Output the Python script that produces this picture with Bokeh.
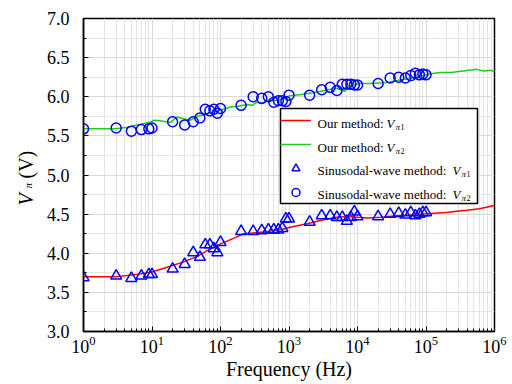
import math
from bokeh.plotting import figure
from bokeh.layouts import row
from bokeh.models import (Range1d, FixedTicker, Legend, LegendItem, Label,
                          PrintfTickFormatter, BoxAnnotation)
from bokeh.embed import file_html
from bokeh.resources import INLINE

# ---- data ----
freq_meas = [1, 3, 5, 7, 9, 10, 20, 30, 40, 50, 60, 70, 80, 90, 100,
             200, 300, 400, 500, 600, 700, 800, 900, 1000,
             2000, 3000, 4000, 5000, 6000, 7000, 8000, 9000, 10000,
             20000, 30000, 40000, 50000, 60000, 70000, 80000, 90000, 100000]
v1_meas = [3.69, 3.71, 3.68, 3.71, 3.73, 3.73, 3.80, 3.86, 4.01, 3.95, 4.11, 4.11, 4.06, 4.01, 4.14,
           4.28, 4.28, 4.29, 4.30, 4.30, 4.30, 4.32, 4.44, 4.44,
           4.40, 4.48, 4.48, 4.46, 4.46, 4.41, 4.46, 4.53, 4.47,
           4.47, 4.50, 4.51, 4.49, 4.52, 4.48, 4.50, 4.52, 4.52]
v2_meas = [5.59, 5.60, 5.56, 5.58, 5.59, 5.60, 5.68, 5.64, 5.68, 5.73, 5.84, 5.82, 5.84, 5.79, 5.85,
           5.89, 6.00, 5.98, 6.00, 5.93, 5.95, 5.95, 5.94, 6.02,
           6.02, 6.09, 6.12, 6.08, 6.16, 6.16, 6.16, 6.15, 6.15,
           6.17, 6.24, 6.25, 6.24, 6.27, 6.30, 6.28, 6.29, 6.28]

f_red = [1, 3, 6, 10, 18, 29, 46, 63, 100, 155, 220, 300, 430, 600, 830, 1000,
         1900, 3300, 5000, 7000, 10000, 14000, 22000, 38000, 60000, 83000,
         130000, 200000, 300000, 400000, 600000, 1000000]
v_red = [3.70, 3.70, 3.73, 3.76, 3.83, 3.89, 3.96, 4.03, 4.12, 4.19, 4.25, 4.26, 4.27, 4.29, 4.31, 4.33,
         4.38, 4.43, 4.46, 4.47, 4.46, 4.45, 4.46, 4.48, 4.49, 4.50,
         4.51, 4.52, 4.54, 4.55, 4.57, 4.61]

f_green = [1, 3, 4.4, 6, 7.9, 9.7, 10.7, 14, 18.5, 23, 29, 36, 46, 57, 72, 100, 140, 180,
           245, 290, 340, 400, 480, 600, 850, 1000, 1500, 2280, 3300, 4800, 6500, 7400,
           10600, 15000, 25000, 47000, 74000, 113000, 160000, 230000, 350000, 550000,
           700000, 880000, 1000000]
v_green = [5.59, 5.59, 5.61, 5.64, 5.66, 5.68, 5.70, 5.69, 5.67, 5.74, 5.72, 5.70, 5.75, 5.77, 5.80,
           5.83, 5.87, 5.88, 5.90, 5.89, 5.93, 5.91, 5.96, 5.95, 5.98, 6.01, 6.03, 6.05, 6.08,
           6.11, 6.07, 6.13, 6.17, 6.17, 6.18, 6.22, 6.25, 6.29, 6.31, 6.31, 6.33, 6.35,
           6.33, 6.34, 6.32]

x_ticks = [1, 10, 100, 1000, 10000, 100000, 1000000]
y_ticks = [3.0, 3.5, 4.0, 4.5, 5.0, 5.5, 6.0, 6.5, 7.0]

legend_texts = ["Our method: ", "Our method: ", "Sinusodal-wave method: ", "Sinusodal-wave method: "]
legend_subs = ["1", "2", "1", "2"]

FONT = "Liberation Serif"

# ---- narrow strip holding the y-axis title (italic V with subscript pi) ----
lf = figure(width=40, height=384, x_range=Range1d(0, 1), y_range=Range1d(0, 1),
            title=None, x_axis_location=None, y_axis_location=None,
            min_border_left=0, min_border_right=0, min_border_top=18, min_border_bottom=53,
            output_backend="svg", toolbar_location=None)
lf.outline_line_color = None
lf.background_fill_color = "white"
lf.border_fill_color = "white"
lf.grid.visible = False


def lab(fig, **kw):
    base = dict(x_units="screen", y_units="screen", text_font=FONT, text_color="black",
                text_baseline="alphabetic", text_align="left")
    base.update(kw)
    fig.add_layout(Label(**base))


lab(lf, x=25, y=126, text="V", angle=math.pi / 2, text_font_size="20px", text_font_style="italic")
lab(lf, x=27.5, y=143, text="π", angle=math.pi / 2, text_font_size="11px", text_font_style="italic")
lab(lf, x=25, y=153, text="(V)", angle=math.pi / 2, text_font_size="20px")

# ---- main plot ----
p = figure(width=472, height=384, x_axis_type="log",
           x_range=Range1d(1, 1e6), y_range=Range1d(3, 7),
           min_border_left=43, min_border_right=18, min_border_top=18, min_border_bottom=53,
           output_backend="svg", toolbar_location=None)
p.background_fill_color = "white"
p.border_fill_color = "white"
p.outline_line_color = "black"
p.outline_line_width = 1.5

r_red = p.line(f_red, v_red, line_color="#ff0000", line_width=1.5)
r_green = p.line(f_green, v_green, line_color="#1ccc1c", line_width=1.5)
r_tri = p.scatter(freq_meas, v1_meas, marker="triangle", size=11, fill_color=None,
                  line_color="#0000ff", line_width=1.5)
r_cir = p.scatter(freq_meas, v2_meas, marker="circle", size=10, fill_color=None,
                  line_color="#0000ff", line_width=1.5)

x_minor = [m * t for t in x_ticks[:-1] for m in range(2, 10)]
y_minor = [t + 0.25 for t in y_ticks[:-1]]
p.xaxis.ticker = FixedTicker(ticks=x_ticks, minor_ticks=x_minor)
p.yaxis.ticker = FixedTicker(ticks=y_ticks, minor_ticks=y_minor)
p.yaxis.formatter = PrintfTickFormatter(format="%.1f")

for ax in (p.xaxis[0], p.yaxis[0]):
    ax.major_label_text_font = FONT
    ax.major_label_text_font_size = "18px"
    ax.major_label_text_color = "black"
    ax.axis_line_color = "black"
    ax.axis_line_width = 1.5
    ax.major_tick_line_color = "black"
    ax.minor_tick_line_color = "black"
    ax.major_tick_in = 5
    ax.major_tick_out = 0
    ax.minor_tick_in = 3
    ax.minor_tick_out = 0
p.yaxis.major_label_standoff = 14
p.xaxis.major_label_standoff = 4
p.xaxis.axis_label = "Frequency (Hz)"
p.xaxis.axis_label_text_font = FONT
p.xaxis.axis_label_text_font_size = "20px"
p.xaxis.axis_label_text_font_style = "normal"
p.xaxis.axis_label_text_color = "black"
p.xaxis.axis_label_standoff = 2

for g in (p.xgrid[0], p.ygrid[0]):
    g.grid_line_color = "#d8d8d8"
    g.minor_grid_line_color = "#e4e4e4"
    g.grid_line_width = 1
    g.minor_grid_line_width = 1

# legend box (white, black border) drawn above the data
p.add_layout(BoxAnnotation(left=197, right=394, bottom=128, top=223,
                           left_units="screen", right_units="screen",
                           bottom_units="screen", top_units="screen",
                           fill_color="white", fill_alpha=1.0,
                           line_color="black", line_width=1.5, line_alpha=1.0))

row_y = [208, 184, 161, 137]
v_x = [303, 303, 369, 369]
for txt, sub, yy, vx in zip(legend_texts, legend_subs, row_y, v_x):
    lab(p, x=234, y=yy, text=txt, text_font_size="13px")
    lab(p, x=vx, y=yy, text="V", text_font_size="13px", text_font_style="italic")
    lab(p, x=vx + 9, y=yy - 3, text="π", text_font_size="9px", text_font_style="italic")
    lab(p, x=vx + 14, y=yy - 3, text=sub, text_font_size="8px")

legend = Legend(items=[LegendItem(label=" ", renderers=[r]) for r in (r_red, r_green, r_tri, r_cir)],
                location=(197, 129), padding=1, spacing=4, margin=0,
                glyph_width=31, glyph_height=20, label_height=20, label_width=150,
                label_standoff=5, border_line_color=None,
                background_fill_alpha=0.0, label_text_font_size="13px")
p.add_layout(legend)

layout = row(lf, p, spacing=0)
open("out.html", "w").write(file_html(layout, INLINE))
